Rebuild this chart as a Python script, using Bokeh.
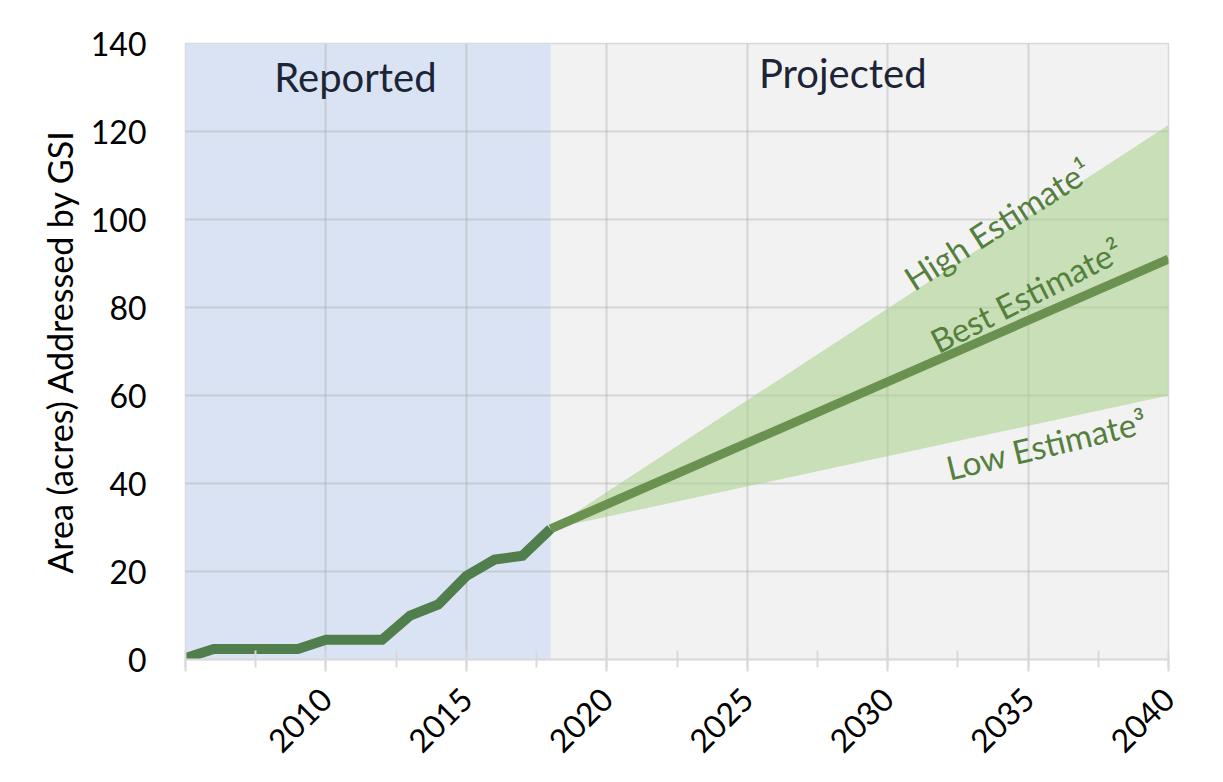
import math
from bokeh.plotting import figure
from bokeh.models import (ColumnDataSource, BoxAnnotation, SingleIntervalTicker,
                          FixedTicker, Range1d)
from bokeh.core.properties import value
from bokeh.embed import file_html
from bokeh.resources import INLINE

# ---- data ----
reported_years = [2005, 2006, 2007, 2008, 2009, 2010, 2011, 2012, 2013, 2014, 2015, 2016, 2017, 2018]
reported_area = [0.3, 2.4, 2.4, 2.4, 2.4, 4.5, 4.5, 4.5, 10.0, 12.5, 19.0, 22.7, 23.6, 29.7]

proj_years = [2018, 2040]
best_est = [29.7, 91.0]
high_est = [29.7, 121.5]
low_est = [29.7, 60.0]

reported_span = [2005, 2018]
projected_span = [2018, 2040]

y_ticks = [0, 20, 40, 60, 80, 100, 120, 140]

FONT = "Lato"

p = figure(width=1215, height=774, output_backend="svg", toolbar_location=None,
           x_range=Range1d(2005, 2040), y_range=Range1d(0, 140),
           min_border_left=185, min_border_right=47, min_border_top=43,
           min_border_bottom=115)

p.background_fill_color = "#f2f2f2"
p.border_fill_color = "white"
p.outline_line_color = "#d9d9d9"
p.outline_line_width = 1.5

# shaded regions
p.add_layout(BoxAnnotation(left=reported_span[0], right=reported_span[1],
                           fill_color="#dae3f3", fill_alpha=1.0,
                           line_color=None, level="image"))

# grids
p.xgrid.ticker = SingleIntervalTicker(interval=5)
p.ygrid.ticker = FixedTicker(ticks=y_ticks)
for g in (p.xgrid, p.ygrid):
    g.grid_line_color = "#a6a6a6"
    g.grid_line_alpha = 0.38
    g.grid_line_width = 2

# axes
p.xaxis.ticker = SingleIntervalTicker(interval=5, num_minor_ticks=2)
p.xaxis.axis_line_color = "#d9d9d9"
p.xaxis.axis_line_width = 2
p.xaxis.major_tick_line_color = "#d9d9d9"
p.xaxis.major_tick_line_width = 2
p.xaxis.major_tick_in = 0
p.xaxis.major_tick_out = 12
p.xaxis.minor_tick_line_color = "#d9d9d9"
p.xaxis.minor_tick_line_width = 2
p.xaxis.minor_tick_in = 9
p.xaxis.minor_tick_out = 8
p.xaxis.major_label_orientation = math.pi / 4
p.xaxis.major_label_text_font = FONT
p.xaxis.major_label_text_font_size = "32px"
p.xaxis.major_label_text_color = "black"
p.xaxis.major_label_standoff = 22
p.xaxis.major_label_overrides = {2005: ""}

p.yaxis.ticker = FixedTicker(ticks=y_ticks)
p.yaxis.axis_line_color = None
p.yaxis.major_tick_line_color = None
p.yaxis.minor_tick_line_color = None
p.yaxis.major_label_text_font = FONT
p.yaxis.major_label_text_font_size = "32px"
p.yaxis.major_label_text_color = "black"
p.yaxis.major_label_standoff = 33
p.yaxis.axis_label = "Area (acres) Addressed by GSI"
p.yaxis.axis_label_text_font = FONT
p.yaxis.axis_label_text_font_size = "34px"
p.yaxis.axis_label_text_font_style = "normal"
p.yaxis.axis_label_text_color = "black"
p.yaxis.axis_label_standoff = 8

# band
band_src = ColumnDataSource(dict(x=proj_years, lo=low_est, hi=high_est))
p.varea(x="x", y1="lo", y2="hi", source=band_src, fill_color="#a9d18e", fill_alpha=0.58)

# lines
p.line(reported_years, reported_area, line_color="#507e4c", line_width=10,
       line_join="miter")
p.line(proj_years, best_est, line_color="#6a914f", line_width=9)

# region labels
p.text(x=[2011.05], y=[132.5], text=["Reported"], text_font=value(FONT),
       text_font_size="40px", text_color="#1c2536", text_align="center",
       text_baseline="middle")
p.text(x=[2028.4], y=[133.2], text=["Projected"], text_font=value(FONT),
       text_font_size="40px", text_color="#1c2536", text_align="center",
       text_baseline="middle")

# estimate labels
est_color = "#54803c"
p.text(x=[2030.7], y=[86.0], text=["High Estimate\u00b9"], angle=math.radians(32.5),
       text_font=value(FONT), text_font_size="33px", text_color=est_color,
       text_align="left", text_baseline="alphabetic")
p.text(x=[2031.6], y=[72.0], text=["Best Estimate\u00b2"], angle=math.radians(27),
       text_font=value(FONT), text_font_size="33px", text_color=est_color,
       text_align="left", text_baseline="alphabetic")
p.text(x=[2032.1], y=[43.5], text=["Low Estimate\u00b3"], angle=math.radians(13.5),
       text_font=value(FONT), text_font_size="33px", text_color=est_color,
       text_align="left", text_baseline="alphabetic")

open("out.html", "w").write(file_html(p, INLINE))
